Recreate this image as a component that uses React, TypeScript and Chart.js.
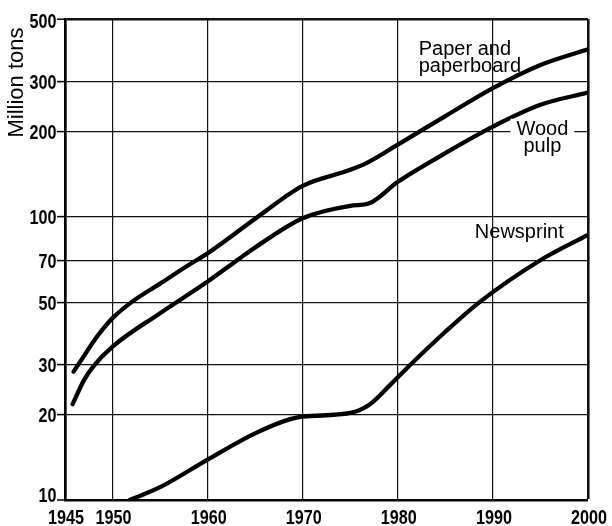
import { useEffect, useRef } from "react";
import { Chart, registerables } from "chart.js";

Chart.register(...registerables);

// World production, million tons (log scale)
const paperYears = [1945.9, 1947, 1948, 1949, 1950, 1952, 1955, 1958, 1960, 1965, 1970, 1975, 1977, 1980, 1985, 1990, 1995, 2000];
const paperValues = [28.4, 32.3, 36.3, 40.2, 43.9, 50, 58.1, 67.6, 74.4, 98.5, 128.7, 146.6, 156.8, 180, 227, 285, 344, 391];

const pulpYears = [1945.8, 1947, 1948, 1950, 1955, 1960, 1963.4, 1965, 1970, 1975, 1977, 1980, 1985, 1990, 1995, 2000];
const pulpValues = [21.8, 26.5, 29.7, 34.8, 45.7, 59.1, 71.5, 78, 98.9, 109.4, 111.7, 133, 168, 208.4, 248.8, 275];

const newsprintYears = [1951.8, 1955, 1960, 1965, 1968.7, 1970, 1975, 1977, 1979.2, 1981.3, 1985, 1988.6, 1994.9, 2000];
const newsprintValues = [10, 11.1, 13.9, 17.2, 19.3, 19.7, 20.3, 21.7, 25.5, 30, 39.3, 50, 70, 86.4];

const yTickValues = [10, 20, 30, 50, 70, 100, 200, 300, 500];
const xTickValues = [1945, 1950, 1960, 1970, 1980, 1990, 2000];

const TICK_FONT = "bold 21px 'Liberation Sans', Arial, sans-serif";
const TICK_SQUEEZE = 0.77;
const LABEL_FONT = "'Liberation Sans', Arial, sans-serif";

const toPoints = (xs: number[], ys: number[]) => xs.map((x, i) => ({ x, y: ys[i] }));

// Curve captions, anchored in data coordinates (year, value)
const captions = [
  { lines: ["Paper and", "paperboard"], year: 1982.2, value: 374, align: "left" as CanvasTextAlign, bg: false },
  { lines: ["Wood", "pulp"], year: 1995.2, value: 195, align: "center" as CanvasTextAlign, bg: true },
  { lines: ["Newsprint"], year: 1988.1, value: 84, align: "left" as CanvasTextAlign, bg: false },
];

// Narrow, heavy tick numerals placed on the scales' own tick positions
const tickLabelPlugin = {
  id: "narrowTickLabels",
  afterDraw(chart: any) {
    const { ctx, scales } = chart;
    const xs = scales.x;
    const ys = scales.y;
    ctx.save();
    ctx.font = TICK_FONT;
    ctx.fillStyle = "#000";
    ctx.textBaseline = "alphabetic";
    for (const t of ys.ticks) {
      const v = t.value;
      const py = ys.getPixelForValue(v);
      const dy = v === 10 ? 1.5 : v === 500 ? 9 : 7.5;
      ctx.save();
      ctx.translate(ys.right - 8.5, py + dy);
      ctx.scale(TICK_SQUEEZE, 1);
      ctx.textAlign = "right";
      ctx.fillText(String(v), 0, 0);
      ctx.restore();
    }
    for (const t of xs.ticks) {
      const v = t.value;
      const px = xs.getPixelForValue(v);
      ctx.save();
      ctx.translate(px + 1, xs.top + 24);
      ctx.scale(TICK_SQUEEZE, 1);
      ctx.textAlign = "center";
      ctx.fillText(String(v), 0, 0);
      ctx.restore();
    }
    ctx.restore();
  },
};

const annotationPlugin = {
  id: "curveCaptions",
  afterDatasetsDraw(chart: any) {
    const { ctx, scales } = chart;
    const xs = scales.x;
    const ys = scales.y;
    ctx.save();
    ctx.font = `20px ${LABEL_FONT}`;
    ctx.textBaseline = "alphabetic";
    const lineStep = 17;
    for (const c of captions) {
      const px = xs.getPixelForValue(c.year);
      const py = ys.getPixelForValue(c.value);
      if (c.bg) {
        const w = Math.max(...c.lines.map((l) => ctx.measureText(l).width));
        ctx.fillStyle = "#fff";
        const left = c.align === "center" ? px - w / 2 - 6 : px - 6;
        ctx.fillRect(left, py - 16, w + 12, 20 + lineStep * (c.lines.length - 1));
      }
      ctx.fillStyle = "#000";
      ctx.textAlign = c.align;
      c.lines.forEach((l, i) => ctx.fillText(l, px, py + i * lineStep));
    }
    // vertical axis title near the top of the y axis
    ctx.translate(16.5, 82.5);
    ctx.rotate(-Math.PI / 2);
    ctx.textAlign = "center";
    ctx.textBaseline = "middle";
    ctx.font = `22px ${LABEL_FONT}`;
    ctx.fillText("Million tons", 0, 0);
    ctx.restore();
  },
};

export default function App() {
  const canvasRef = useRef<HTMLCanvasElement | null>(null);

  useEffect(() => {
    if (!canvasRef.current) return;
    const lineStyle = {
      borderColor: "#000",
      borderWidth: 4.3,
      pointRadius: 0,
      fill: false,
      cubicInterpolationMode: "monotone" as const,
      borderCapStyle: "round" as const,
      borderJoinStyle: "round" as const,
    };
    const chart = new Chart(canvasRef.current, {
      type: "line",
      data: {
        datasets: [
          { label: "Paper and paperboard", data: toPoints(paperYears, paperValues), ...lineStyle },
          { label: "Wood pulp", data: toPoints(pulpYears, pulpValues), ...lineStyle },
          { label: "Newsprint", data: toPoints(newsprintYears, newsprintValues), ...lineStyle },
        ],
      },
      options: {
        responsive: false,
        animation: false,
        parsing: false,
        layout: { padding: { left: 0, right: 24, top: 19, bottom: 0 } },
        plugins: { legend: { display: false }, tooltip: { enabled: false }, title: { display: false } },
        scales: {
          x: {
            type: "linear",
            min: 1945,
            max: 2000,
            afterBuildTicks: (scale: any) => {
              scale.ticks = xTickValues.map((v) => ({ value: v }));
            },
            afterFit: (scale: any) => {
              scale.height = 26;
            },
            ticks: { display: false },
            grid: {
              color: "#111",
              drawTicks: false,
              lineWidth: (ctx: any) => (ctx.tick?.value === 2000 ? 2.6 : ctx.tick?.value === 1945 ? 0 : 1.2),
            },
            border: { display: true, color: "#000", width: 2.5 },
          },
          y: {
            type: "logarithmic",
            min: 10,
            max: 500,
            afterBuildTicks: (scale: any) => {
              scale.ticks = yTickValues.map((v) => ({ value: v }));
            },
            afterFit: (scale: any) => {
              scale.width = 65;
            },
            ticks: { display: false },
            grid: {
              color: "#111",
              drawTicks: true,
              tickLength: 8,
              tickWidth: 1.5,
              tickColor: "#000",
              lineWidth: (ctx: any) => (ctx.tick?.value === 500 ? 2.4 : ctx.tick?.value === 10 ? 0 : 1.2),
            },
            border: { display: true, color: "#000", width: 2.7 },
          },
        },
      },
      plugins: [annotationPlugin, tickLabelPlugin],
    });
    return () => chart.destroy();
  }, []);

  return (
    <div style={{ position: "fixed", left: 0, top: 0, width: 612, height: 526, background: "#fff" }}>
      <canvas ref={canvasRef} width={612} height={526} />
    </div>
  );
}
